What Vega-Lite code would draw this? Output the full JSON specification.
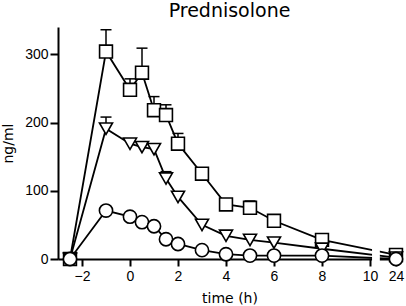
{
  "$schema": "https://vega.github.io/schema/vega-lite/v6.json",
  "width": 343,
  "height": 232,
  "autosize": "none",
  "padding": {"left": 58, "top": 27, "right": 5, "bottom": 47},
  "title": {"text": "Prednisolone", "font": "DejaVu Sans", "fontSize": 19, "fontWeight": "normal", "color": "black", "anchor": "middle", "offset": 6},
  "config": {
    "view": {"stroke": null},
    "axis": {
      "grid": false,
      "domainColor": "black",
      "domainWidth": 2,
      "tickColor": "black",
      "tickWidth": 2,
      "labelFont": "Liberation Sans",
      "labelFontSize": 14,
      "labelColor": "black",
      "titleFont": "DejaVu Sans",
      "titleFontSize": 14,
      "titleFontWeight": "normal",
      "titleColor": "black",
      "labelFlush": false,
      "labelOverlap": false
    }
  },
  "datasets": {
    "pk": [
      {"series": "A", "t": -2.5, "v": 0},
      {"series": "A", "t": -1, "v": 304, "err": 336},
      {"series": "A", "t": 0, "v": 248, "err": 264},
      {"series": "A", "t": 0.5, "v": 273, "err": 309},
      {"series": "A", "t": 1, "v": 218, "err": 238},
      {"series": "A", "t": 1.5, "v": 211, "err": 226},
      {"series": "A", "t": 2, "v": 169, "err": 184},
      {"series": "A", "t": 3, "v": 125},
      {"series": "A", "t": 4, "v": 80},
      {"series": "A", "t": 5, "v": 75, "err": 85},
      {"series": "A", "t": 6, "v": 56},
      {"series": "A", "t": 8, "v": 28},
      {"series": "A", "t": 24, "v": 6},
      {"series": "B", "t": -2.5, "v": 0},
      {"series": "B", "t": -1, "v": 191, "err": 208},
      {"series": "B", "t": 0, "v": 169, "err": 175},
      {"series": "B", "t": 0.5, "v": 164, "err": 171},
      {"series": "B", "t": 1, "v": 161, "err": 168},
      {"series": "B", "t": 1.5, "v": 118, "err": 128},
      {"series": "B", "t": 2, "v": 91},
      {"series": "B", "t": 3, "v": 50},
      {"series": "B", "t": 4, "v": 34},
      {"series": "B", "t": 5, "v": 28},
      {"series": "B", "t": 6, "v": 24},
      {"series": "B", "t": 8, "v": 15},
      {"series": "B", "t": 24, "v": 2},
      {"series": "C", "t": -2.5, "v": 0},
      {"series": "C", "t": -1, "v": 71},
      {"series": "C", "t": 0, "v": 62},
      {"series": "C", "t": 0.5, "v": 54},
      {"series": "C", "t": 1, "v": 48},
      {"series": "C", "t": 1.5, "v": 29},
      {"series": "C", "t": 2, "v": 22},
      {"series": "C", "t": 3, "v": 13},
      {"series": "C", "t": 4, "v": 7},
      {"series": "C", "t": 5, "v": 5},
      {"series": "C", "t": 6, "v": 5},
      {"series": "C", "t": 8, "v": 5},
      {"series": "C", "t": 24, "v": 0}
    ],
    "brk": [{"x1": 11.1, "x2": 15.3, "y1": -6, "y2": 340}]
  },
  "layer": [
    {
      "data": {"name": "pk"},
      "mark": {"type": "line", "color": "black", "strokeWidth": 1.8},
      "encoding": {
        "x": {
          "field": "t", "type": "quantitative",
          "scale": {"type": "linear", "domain": [-3, 10, 24, 24.5], "range": [0, 312, 338, 343], "nice": false, "zero": false},
          "axis": {"title": "time (h)", "values": [-2, 0, 2, 4, 6, 8, 10, 24], "tickSize": 7, "labelPadding": 3, "titlePadding": 8}
        },
        "y": {
          "field": "v", "type": "quantitative",
          "scale": {"domain": [0, 340], "nice": false, "zero": true},
          "axis": {"title": "ng/ml", "values": [0, 100, 200, 300], "tickSize": 8, "labelPadding": 2, "titlePadding": 9}
        },
        "detail": {"field": "series"}
      }
    },
    {
      "data": {"name": "brk"},
      "mark": {"type": "rect", "fill": "white"},
      "encoding": {
        "x": {"field": "x1", "type": "quantitative"},
        "x2": {"field": "x2"},
        "y": {"field": "y1", "type": "quantitative"},
        "y2": {"field": "y2"}
      }
    },
    {
      "data": {"name": "pk"},
      "transform": [{"filter": "isValid(datum.err)"}],
      "mark": {"type": "rule", "color": "black", "strokeWidth": 1.5},
      "encoding": {
        "x": {"field": "t", "type": "quantitative"},
        "y": {"field": "v", "type": "quantitative"},
        "y2": {"field": "err"}
      }
    },
    {
      "data": {"name": "pk"},
      "transform": [{"filter": "isValid(datum.err)"}],
      "mark": {"type": "tick", "orient": "horizontal", "color": "black", "size": 11, "thickness": 1.5, "opacity": 1},
      "encoding": {
        "x": {"field": "t", "type": "quantitative"},
        "y": {"field": "err", "type": "quantitative"}
      }
    },
    {
      "data": {"name": "pk"},
      "mark": {"type": "point", "filled": true, "fill": "white", "stroke": "black", "strokeWidth": 1.6, "opacity": 1, "fillOpacity": 1},
      "encoding": {
        "x": {"field": "t", "type": "quantitative"},
        "y": {"field": "v", "type": "quantitative"},
        "shape": {"field": "series", "type": "nominal", "scale": {"domain": ["A", "B", "C"], "range": ["square", "triangle-down", "circle"]}, "legend": null},
        "size": {"field": "series", "type": "ordinal", "scale": {"domain": ["A", "B", "C"], "range": [165, 175, 150]}, "legend": null}
      }
    }
  ]
}
